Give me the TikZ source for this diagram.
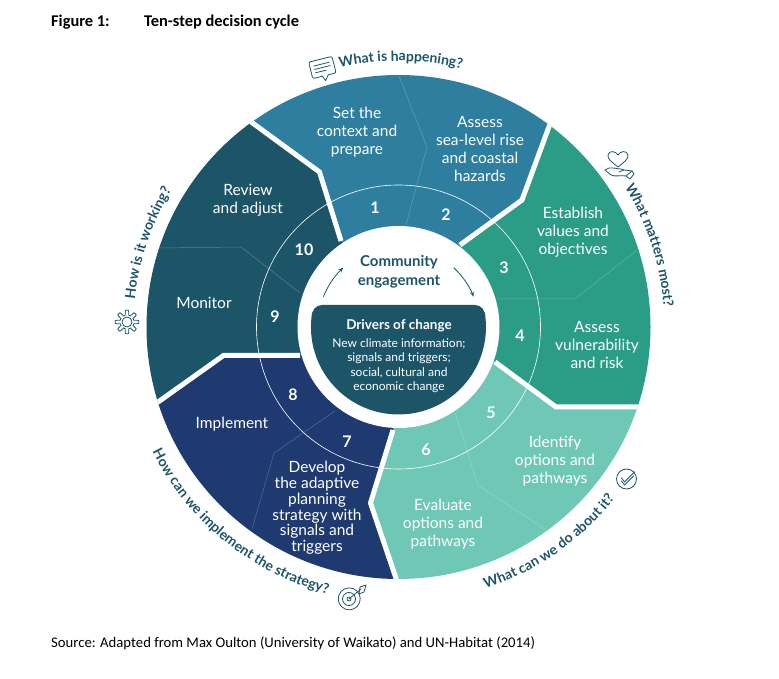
\documentclass[tikz,border=0pt]{standalone}
\usepackage{fontspec}
\setmainfont{Lato}
\newfontfamily\docfont{Carlito}
\usetikzlibrary{decorations.text,arrows.meta}

\definecolor{blueSeg}{HTML}{2E7F9F}
\definecolor{greenSeg}{HTML}{2B9C85}
\definecolor{mintSeg}{HTML}{6FC8B5}
\definecolor{navySeg}{HTML}{1E3A70}
\definecolor{tealSeg}{HTML}{1D5568}

\begin{document}
\begin{tikzpicture}[
        x=1pt, y=1pt,
        stepLabel/.style={font=\fontsize{15.5}{18}\selectfont, text=white, align=center, inner sep=0pt},
        stepNum/.style={font=\fontsize{16}{16}\selectfont\bfseries, text=white, inner sep=0pt},
        gapLine/.style={white, line width=5pt, line join=miter},
        splitLine/.style={white, opacity=0.25, line width=0.5pt},
        iconLine/.style={tealSeg, line width=0.8pt, line join=round, line cap=round},
        cycleArrow/.style={tealSeg, line width=0.8pt, -{Stealth[length=5pt,width=4pt]}},
        docText/.style={font=\docfont\fontsize{14.7}{16}\selectfont, text=black, anchor=base west, inner sep=0pt},
        docHead/.style={docText, font=\docfont\fontsize{16.4}{18}\selectfont\bfseries},
        ringText/.style={decorate, decoration={text along path, text color=tealSeg, text align=center,
            text={|\fontsize{14}{14}\selectfont\bfseries|#1}}}
    ]
        \useasboundingbox (0,0) rectangle (779,678);

        % Centre of the wheel and the corners of the segments
        \coordinate (hub) at (398.5,351);
        \coordinate (endA) at (557,573);   \coordinate (bendA) at (522,478);     \coordinate (inA) at (460,433);
        \coordinate (endB) at (670,271);   \coordinate (bendB) at (556,271);     \coordinate (inB) at (495,316);
        \coordinate (endC) at (402,82);    \coordinate (bendC) at (370.5,175);   \coordinate (inC) at (393,248);
        \coordinate (endD) at (137,261);   \coordinate (bendD) at (223.5,322.5); \coordinate (inD) at (300,322.5);
        \coordinate (endE) at (230,571.5); \coordinate (bendE) at (319.5,506);   \coordinate (inE) at (341,437);

        % Segments
        \begin{scope}
            \clip (hub) circle (252);
            \fill[blueSeg] (hub) -- (inE) -- (bendE) -- (endE) -- (399,638) -- (endA) -- (bendA) -- (inA) -- cycle;
            \fill[greenSeg] (hub) -- (inA) -- (bendA) -- (endA) -- (680,498) -- (680,271) -- (bendB) -- (inB) -- cycle;
            \fill[mintSeg] (hub) -- (inB) -- (bendB) -- (680,271) -- (640,78) -- (endC) -- (bendC) -- (inC) -- cycle;
            \fill[navySeg] (hub) -- (inC) -- (bendC) -- (endC) -- (140,78) -- (endD) -- (bendD) -- (inD) -- cycle;
            \fill[tealSeg] (hub) -- (inD) -- (bendD) -- (endD) -- (120,558) -- (endE) -- (bendE) -- (inE) -- cycle;

            % Thin lines inside the segments
            \draw[splitLine] (399,602) -- (427,531) -- (406,453);
            \draw[splitLine] (637,428) -- (575,379) -- (498,379);
            \draw[splitLine] (455,265) -- (478,193) -- (546,148);
            \draw[splitLine] (335,267) -- (274,225) -- (252,149);
            \draw[splitLine] (159,430) -- (241,431) -- (300,385);

            % Ring
            \draw[white, line width=0.6pt] (hub) circle (142);

            % White gaps
            \draw[gapLine] (endA) -- (bendA) -- (inA);
            \draw[gapLine] (endB) -- (bendB) -- (inB);
            \draw[gapLine] (endC) -- (bendC) -- (inC);
            \draw[gapLine] (endD) -- (bendD) -- (inD);
            \draw[gapLine] (endE) -- (bendE) -- (inE);
        \end{scope}
        \fill[white] (hub) circle (101);

        % Centre
        \fill[tealSeg] (322,373) -- (475,373) .. controls (481,373) and (485.5,368) .. (485.5,360)
            arc[start angle=5.9, end angle=-185.9, radius=87.5]
            .. controls (311.5,368) and (316,373) .. (322,373) -- cycle;
        \node[font=\fontsize{15}{19}\selectfont\bfseries, text=tealSeg, align=center, inner sep=0pt] (community) at (399,406) {Community\\engagement};
        \node[font=\fontsize{13.5}{14}\selectfont\bfseries, text=white, inner sep=0pt] (drivers) at (399,352) {Drivers of change};
        \node[font=\fontsize{12}{14.4}\selectfont, text=white, align=center, inner sep=0pt] (driversText) at (399,312.5) {New climate information;\\signals and triggers;\\social, cultural and\\economic change};
        \draw[cycleArrow, shift={(hub)}] (158:81) arc[start angle=158, end angle=133, radius=81];
        \draw[cycleArrow, shift={(hub)}] (47:81) arc[start angle=47, end angle=22, radius=81];

        % Step names
        \node[stepLabel] (contextLabel) at (357,546) {Set the\\context and\\prepare};
        \node[stepLabel] (hazardLabel) at (480,529) {Assess\\sea-level rise\\and coastal\\hazards};
        \node[stepLabel] (valuesLabel) at (573,446) {Establish\\values and\\objectives};
        \node[stepLabel] (riskLabel) at (597,333) {Assess\\vulnerability\\and risk};
        \node[stepLabel] (identifyLabel) at (555,217) {Identify\\options and\\pathways};
        \node[stepLabel] (evaluateLabel) at (443,154) {Evaluate\\options and\\pathways};
        \node[stepLabel, font=\fontsize{15.5}{15.8}\selectfont] (developLabel) at (317,170) {Develop\\the adaptive\\planning\\strategy with\\signals and\\triggers};
        \node[stepLabel] (implementLabel) at (232,254) {Implement};
        \node[stepLabel] (monitorLabel) at (204,375) {Monitor};
        \node[stepLabel] (reviewLabel) at (248,478) {Review\\and adjust};

        % Step numbers
        \node[stepNum] (numOne) at (375,470) {1};
        \node[stepNum] (numTwo) at (446,463) {2};
        \node[stepNum] (numThree) at (504,410) {3};
        \node[stepNum] (numFour) at (520,342) {4};
        \node[stepNum] (numFive) at (491,265) {5};
        \node[stepNum] (numSix) at (426,228) {6};
        \node[stepNum] (numSeven) at (347,236) {7};
        \node[stepNum] (numEight) at (293,283) {8};
        \node[stepNum] (numNine) at (275,361) {9};
        \node[stepNum] (numTen) at (304,428) {10};

        % Questions round the wheel
        \path[ringText={What is happening?}, shift={(hub)}] (140:266) arc[start angle=140, end angle=39, radius=266];
        \path[ringText={What matters most?}, shift={(hub)}] (68:266) arc[start angle=68, end angle=-32, radius=266];
        \path[ringText={What can we do about it?}, shift={(hub)}] (-105:276) arc[start angle=-105, end angle=-5, radius=276];
        \path[ringText={How can we implement the strategy?}, shift={(hub)}] (181:276) arc[start angle=181, end angle=281, radius=276];
        \path[ringText={How is it working?}, shift={(hub)}] (212:265) arc[start angle=212, end angle=111, radius=265];

        % Speech bubble
        \begin{scope}[shift={(322.5,610)}, rotate=14, iconLine]
            \draw[rounded corners=2pt] (-12,-8) rectangle (12,9);
            \fill[white] (-2,-9) rectangle (4,-7);
            \draw (-2,-8) -- (0,-13) -- (4,-8);
            \foreach \yy/\xx in {4/8, 0.5/8, -3/3} {
                \draw (-8,\yy) -- (\xx,\yy);
            }
        \end{scope}

        % Heart in a hand
        \begin{scope}[shift={(618,511)}, iconLine]
            \draw (0,0) .. controls (-5,4) and (-11,8) .. (-10,12) .. controls (-9,17) and (-2,16) .. (0,12)
                .. controls (2,16) and (9,17) .. (10,12) .. controls (11,8) and (5,4) .. (0,0);
            \draw (-13,-3) -- (-9,-1) .. controls (-5,0) and (-2,-2) .. (3,-2) -- (6,-3) -- (1,-5);
            \draw (-13,-3) -- (-7,-8) .. controls (-3,-10) and (3,-8) .. (8,-9) -- (14,-4);
            \draw (8,-9) -- (12,-12) -- (16,-7) -- (14,-4) -- (6,-3);
        \end{scope}

        % Tick in a circle
        \begin{scope}[shift={(626.5,199)}, iconLine]
            \draw (0,0) circle (10);
            \draw (-5,1) -- (-2,-3) -- (8,7);
            \draw (-5,-2) -- (-2,-6) -- (7,3);
        \end{scope}

        % Target
        \begin{scope}[shift={(349,79)}, iconLine]
            \draw (4,10.5) arc[start angle=70, end angle=-290, radius=11];
            \draw (0,0) circle (6.5);
            \draw (0,0) circle (2);
            \draw (0,0) -- (12,10);
            \draw (10,5) -- (15,7) -- (17,14) -- (11,12) -- cycle;
        \end{scope}

        % Gear
        \begin{scope}[shift={(127,356)}, iconLine]
            \draw (0,0) circle (5);
            \draw plot[samples=145, domain=0:360] (\x:{9.3+2.4*max(-1,min(1,2*cos(8*\x)))});
        \end{scope}

        % Heading and source line
        \node[docHead] (figLabel) at (51,651) {Figure 1:};
        \node[docHead] (figTitle) at (144,651) {Ten-step decision cycle};
        \node[docText] (sourceLine) at (51,31) {Source: Adapted from Max Oulton (University of Waikato) and UN-Habitat (2014)};
    \end{tikzpicture}
\end{document}
